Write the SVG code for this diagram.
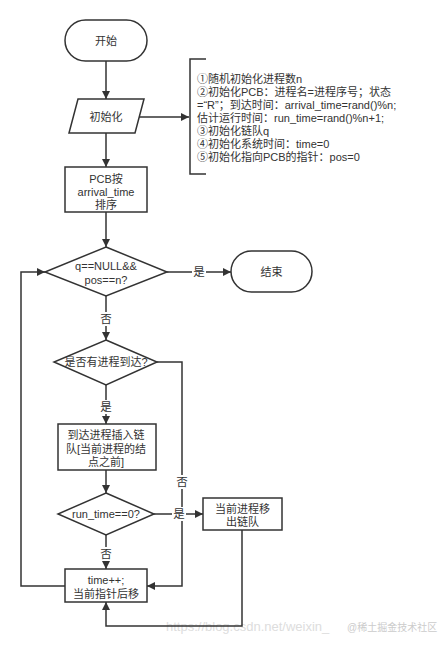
<svg xmlns="http://www.w3.org/2000/svg" width="446" height="646" viewBox="0 0 446 646">
<style>
.shape{fill:#fff;stroke:#333;stroke-width:1.5}
.line{fill:none;stroke:#333;stroke-width:1.5}
text{font-family:"Liberation Sans","Noto Sans CJK SC",sans-serif;font-size:11px;fill:#333;text-anchor:middle;dominant-baseline:central}
.note{font-size:11px;text-anchor:start}
.lbl{font-size:11.5px}
.lblbg{fill:#fff;stroke:none}
.wm{fill:#ddd;font-size:13px;text-anchor:start}
.wm2{fill:#ccc;font-size:10px;text-anchor:start}
</style>
<defs>
<marker id="arr" viewBox="0 0 10 10" refX="10" refY="5" markerWidth="10" markerHeight="8" markerUnits="userSpaceOnUse" orient="auto">
<path d="M0,0 L10,5 L0,10 Z" fill="#333"/>
</marker>
</defs>
<rect width="446" height="646" fill="#fff"/>
<text class="wm" x="166" y="626">https://blog.csdn.net/weixin_</text>
<g id="connectors">
<path class="line" d="M106,61 V99" marker-end="url(#arr)"/>
<path class="line" d="M139,117 H189" marker-end="url(#arr)"/>
<path class="line" d="M106,133 V167" marker-end="url(#arr)"/>
<path class="line" d="M106,212 V247" marker-end="url(#arr)"/>
<path class="line" d="M167,272 H231" marker-end="url(#arr)"/>
<path class="line" d="M106,296 V340" marker-end="url(#arr)"/>
<path class="line" d="M106,385 V424" marker-end="url(#arr)"/>
<path class="line" d="M157,362 H182 V586 H147" marker-end="url(#arr)"/>
<path class="line" d="M106,470 V493" marker-end="url(#arr)"/>
<path class="line" d="M154,514 H203" marker-end="url(#arr)"/>
<path class="line" d="M106,535 V569" marker-end="url(#arr)"/>
<path class="line" d="M242,530 V626 H106 V602" marker-end="url(#arr)"/>
<path class="line" d="M65,586 H21 V272 H45" marker-end="url(#arr)"/>
<rect class="lblbg" x="192" y="265" width="14" height="14"/>
<text class="lbl" x="199" y="272">是</text>
<rect class="lblbg" x="99" y="312" width="14" height="14"/>
<text class="lbl" x="106" y="319">否</text>
<rect class="lblbg" x="99" y="400" width="14" height="14"/>
<text class="lbl" x="106" y="407">是</text>
<rect class="lblbg" x="175" y="475" width="14" height="14"/>
<text class="lbl" x="182" y="482">否</text>
<rect class="lblbg" x="172" y="507" width="14" height="14"/>
<text class="lbl" x="179" y="514">是</text>
<rect class="lblbg" x="99" y="547" width="14" height="14"/>
<text class="lbl" x="106" y="554">否</text>
</g>
<g id="start">
<rect class="shape" x="65" y="20" width="82" height="41" rx="20.5"/>
<text x="106" y="41">开始</text>
</g>
<g id="init">
<path class="shape" d="M78,99 H144 L135,133 H69 Z"/>
<text x="106" y="117">初始化</text>
</g>
<g id="note">
<path class="line" d="M206,59 H190 V174 H206"/>
<text class="note" x="197" y="79">①随机初始化进程数n</text>
<text class="note" x="197" y="92">②初始化PCB：进程名=进程序号；状态</text>
<text class="note" x="197" y="105">=“R”；到达时间：arrival_time=rand()%n;</text>
<text class="note" x="197" y="118">估计运行时间：run_time=rand()%n+1;</text>
<text class="note" x="197" y="131">③初始化链队q</text>
<text class="note" x="197" y="144">④初始化系统时间：time=0</text>
<text class="note" x="197" y="157">⑤初始化指向PCB的指针：pos=0</text>
</g>
<g id="sort">
<rect class="shape" x="65" y="167" width="82" height="45"/>
<text x="106" y="179">PCB按</text>
<text x="106" y="192">arrival_time</text>
<text x="106" y="205">排序</text>
</g>
<g id="cond1">
<path class="shape" d="M106,247 L167,272 L106,296 L45,272 Z"/>
<text x="106" y="266">q==NULL&amp;&amp;</text>
<text x="106" y="280">pos==n?</text>
</g>
<g id="end">
<rect class="shape" x="231" y="251" width="81" height="41" rx="20.5"/>
<text x="271.5" y="272">结束</text>
</g>
<g id="cond2">
<path class="shape" d="M106,340 L157,362 L106,385 L54,362 Z"/>
<text x="106" y="362">是否有进程到达?</text>
</g>
<g id="insert">
<rect class="shape" x="58" y="424" width="98" height="46"/>
<text x="106" y="435">到达进程插入链</text>
<text x="106" y="449">队[当前进程的结</text>
<text x="106" y="462">点之前]</text>
</g>
<g id="cond3">
<path class="shape" d="M106,493 L154,514 L106,535 L58,514 Z"/>
<text x="106" y="514">run_time==0?</text>
</g>
<g id="remove">
<rect class="shape" x="203" y="498" width="79" height="32"/>
<text x="242.5" y="509">当前进程移</text>
<text x="242.5" y="522">出链队</text>
</g>
<g id="advance">
<rect class="shape" x="65" y="569" width="82" height="33"/>
<text x="106" y="580">time++;</text>
<text x="106" y="594">当前指针后移</text>
</g>
<text class="wm2" x="347" y="627">@稀土掘金技术社区</text>
</svg>
